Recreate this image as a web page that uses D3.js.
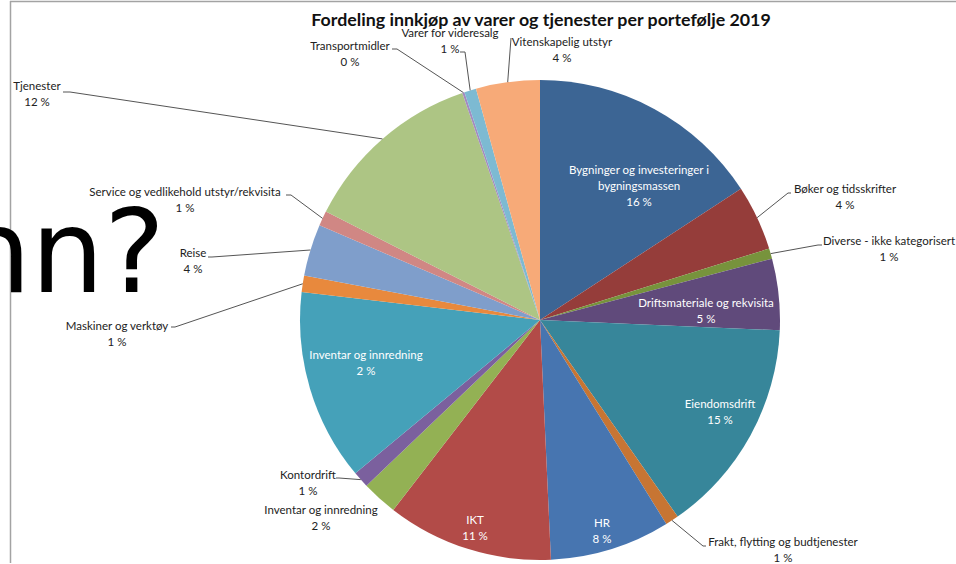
<!DOCTYPE html>
<html>
<head>
<meta charset="utf-8">
<script src="https://cdn.jsdelivr.net/npm/d3@7"></script>
<style>
  body { margin: 0; background: #fff; }
  text { font-family: Lato, "Open Sans", sans-serif; }
</style>
</head>
<body>
<div id="chart"></div>
<script>
// slices clockwise from 12 o'clock
const categories = [
  "Bygninger og investeringer i bygningsmassen",
  "Bøker og tidsskrifter",
  "Diverse - ikke kategorisert",
  "Driftsmateriale og rekvisita",
  "Eiendomsdrift",
  "Frakt, flytting og budtjenester",
  "HR",
  "IKT",
  "Inventar og innredning",
  "Kontordrift",
  "Inventar og innredning",
  "Maskiner og verktøy",
  "Reise",
  "Service og vedlikehold utstyr/rekvisita",
  "Tjenester",
  "Transportmidler",
  "Varer for videresalg",
  "Vitenskapelig utstyr"
]
// share of the pie
const shares = [15.8, 4.4, 0.7, 4.8, 14.6, 0.9, 8.1, 11.2, 2.4, 1.1, 12.9, 1.1, 3.5, 1.0, 12.3, 0.15, 0.8, 4.3]
// percentages as printed in the data labels
const pctLabels = ["16 %", "4 %", "1 %", "5 %", "15 %", "1 %", "8 %", "11 %", "2 %", "1 %", "2 %", "1 %", "4 %", "1 %", "12 %", "0 %", "1 %", "4 %"]
const colors = ["#3c6594", "#953d3a", "#77933c", "#604a7b", "#37869a", "#c77533",
  "#4775b0", "#b24b48", "#93b154", "#7b609e", "#45a1b9", "#e8893d",
  "#7f9ecb", "#d08784", "#adc584", "#a38bc0", "#7dbad2", "#f7aa78"]

const W = 956, H = 564
const cx = 540, cy = 320, R = 240

// label placement: x,y = centre of first text line; inside = white label on slice;
// elbow/tip = where the leader line bends and ends near the label
const labelPos = [
  {x: 639, y: 170, inside: true, lines: ["Bygninger og investeringer i", "bygningsmassen"]},
  {x: 845, y: 189, elbow: [788, 193], tip: [791, 193]},
  {x: 889, y: 241, elbow: [818, 245], tip: [822, 245]},
  {x: 706, y: 303, inside: true},
  {x: 720, y: 404, inside: true},
  {x: 783, y: 542, elbow: [703, 546], tip: [706, 546]},
  {x: 602, y: 523, inside: true},
  {x: 475, y: 520, inside: true},
  {x: 321, y: 510},
  {x: 308, y: 475, elbow: [339, 478], tip: [336, 478]},
  {x: 366, y: 355, inside: true},
  {x: 117, y: 326, elbow: [175, 327], tip: [171, 327]},
  {x: 193, y: 253, elbow: [212, 257], tip: [208, 257]},
  {x: 185, y: 192, elbow: [291, 195], tip: [286, 195]},
  {x: 37, y: 86, elbow: [70, 92], tip: [63, 92]},
  {x: 350, y: 46, elbow: [397, 49], tip: [392, 49]},
  {x: 450, y: 33, elbow: [465, 52], tip: [460, 52]},
  {x: 562, y: 42, elbow: [511, 38], tip: [511, 38]}
]

const svg = d3.select("#chart")
  .append("svg")
  .attr("width", W)
  .attr("height", H)

// frame lines of the slide
svg.append("line").attr("x1", 10).attr("x2", W).attr("y1", 1.5).attr("y2", 1.5)
  .attr("stroke", "#a3a3a3").attr("stroke-width", 1.5)
svg.append("line").attr("x1", 10.5).attr("x2", 10.5).attr("y1", 1).attr("y2", H - 1)
  .attr("stroke", "#a3a3a3").attr("stroke-width", 1.5)

svg.append("text")
  .attr("x", 541).attr("y", 26)
  .attr("text-anchor", "middle")
  .attr("font-weight", "bold")
  .attr("font-size", 17.8)
  .attr("fill", "#111")
  .text("Fordeling innkjøp av varer og tjenester per portefølje 2019")

const data = categories.map((c, i) => ({name: c, value: shares[i], pct: pctLabels[i], i: i}))

const pie = d3.pie().sort(null).value(d => d.value)
const arc = d3.arc().innerRadius(0).outerRadius(R)
const arcs = pie(data)

const g = svg.append("g").attr("transform", `translate(${cx},${cy})`)

g.selectAll("path")
  .data(arcs)
  .enter()
  .append("path")
  .attr("d", arc)
  .attr("fill", d => colors[d.data.i])

// leader lines, starting on the rim at the slice's middle angle
const rim = a => [cx + R * Math.sin(a), cy - R * Math.cos(a)]
svg.selectAll("polyline.leader")
  .data(arcs.filter(d => labelPos[d.data.i].elbow))
  .enter()
  .append("polyline")
  .attr("class", "leader")
  .attr("fill", "none")
  .attr("stroke", "#555")
  .attr("stroke-width", 1)
  .attr("points", d => {
    const p = labelPos[d.data.i]
    return [rim((d.startAngle + d.endAngle) / 2), p.elbow, p.tip].map(q => q.join(",")).join(" ")
  })

const labels = svg.selectAll("text.lbl")
  .data(arcs)
  .enter()
  .append("text")
  .attr("class", "lbl")
  .attr("text-anchor", "middle")
  .attr("font-size", 11.5)
  .attr("fill", d => labelPos[d.data.i].inside ? "#fff" : "#222")

labels.each(function(d) {
  const p = labelPos[d.data.i]
  const lines = (p.lines || [d.data.name]).concat([d.data.pct])
  d3.select(this).selectAll("tspan")
    .data(lines)
    .enter()
    .append("tspan")
    .attr("x", p.x)
    .attr("y", (t, k) => p.y + 4 + k * 16)
    .text(t => t)
})

// large overlay text from the slide behind the chart
svg.append("text")
  .attr("x", 165).attr("y", 292)
  .attr("text-anchor", "end")
  .style("font-family", "'DejaVu Sans', sans-serif")
  .attr("font-size", 115)
  .attr("fill", "#000")
  .text("hn?")
</script>
</body>
</html>
